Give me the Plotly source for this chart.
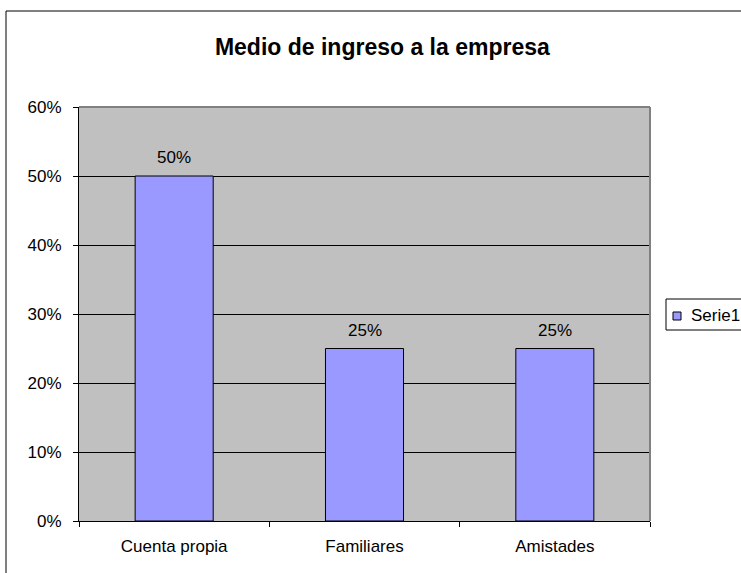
import plotly.graph_objects as go

categories = ["Cuenta propia", "Familiares", "Amistades"]
values = [0.50, 0.25, 0.25]
series_name = "Serie1"
title_text = "Medio de ingreso a la empresa"

FONT = "Liberation Sans, Arial, sans-serif"
BAR_COLOR = "#9999FF"

L, R, T, B = 79, 91, 107, 52
W, H = 741, 573
PW, PH = W - L - R, H - T - B


def px_x(px):
    return (px - L) / PW


def px_y(py):
    return (H - B - py) / PH


fig = go.Figure()
fig.add_trace(go.Bar(
    x=categories, y=values, name=series_name,
    marker=dict(color=BAR_COLOR, line=dict(color="black", width=1)),
    width=0.41,
    showlegend=False,
))

annotations = [
    dict(x=c, y=v, xref="x", yref="y", text=f"{v:.0%}", showarrow=False,
         yanchor="bottom", yshift=7, font=dict(family=FONT, size=17, color="black"))
    for c, v in zip(categories, values)
]
# legend (drawn manually to match the compact original legend)
annotations.append(dict(x=px_x(689), y=px_y(315), xref="paper", yref="paper",
                        text=series_name, showarrow=False, xanchor="left", yanchor="middle",
                        font=dict(family=FONT, size=17, color="black")))

fig.update_layout(
    width=W, height=H,
    margin=dict(l=L, r=R, t=T, b=B, autoexpand=False),
    paper_bgcolor="white",
    plot_bgcolor="#C0C0C0",
    font=dict(family=FONT, size=17, color="black"),
    title=dict(text="<b>" + title_text + "</b>", x=0.516, xref="container", xanchor="center",
               y=1 - 47 / 573, yref="container", yanchor="middle",
               font=dict(family=FONT, size=23, color="black")),
    showlegend=False,
    annotations=annotations,
    xaxis=dict(type="category", tickson="boundaries", ticks="outside", ticklen=5,
               tickcolor="black", showline=True, linecolor="black", linewidth=1,
               showgrid=False, tickfont=dict(family=FONT, size=17, color="black"),
               ticklabelstandoff=10),
    yaxis=dict(range=[0, 0.6], dtick=0.1, tickformat=".0%", ticks="outside", ticklen=5,
               tickcolor="black", showline=True, linecolor="black", linewidth=1,
               showgrid=True, gridcolor="black", gridwidth=1, zeroline=False,
               tickfont=dict(family=FONT, size=17, color="black"),
               ticklabelstandoff=8),
    shapes=[
        dict(type="rect", xref="paper", yref="paper", x0=px_x(6), y0=-0.3, x1=1.4, y1=px_y(11),
             line=dict(color="black", width=1), fillcolor="rgba(0,0,0,0)", layer="below"),
        dict(type="line", xref="paper", yref="paper", x0=0, y0=1, x1=1, y1=1,
             line=dict(color="#808080", width=2), layer="above"),
        dict(type="line", xref="paper", yref="paper", x0=1, y0=0, x1=1, y1=1,
             line=dict(color="#808080", width=2), layer="above"),
        # legend box
        dict(type="rect", xref="paper", yref="paper", x0=px_x(666), y0=px_y(330),
             x1=px_x(780), y1=px_y(299),
             line=dict(color="black", width=1), fillcolor="white", layer="above"),
        # legend swatch
        dict(type="rect", xref="paper", yref="paper", x0=px_x(673), y0=px_y(320),
             x1=px_x(681), y1=px_y(312),
             line=dict(color="black", width=1), fillcolor=BAR_COLOR, layer="above"),
    ],
)

fig.write_html("out.html")
